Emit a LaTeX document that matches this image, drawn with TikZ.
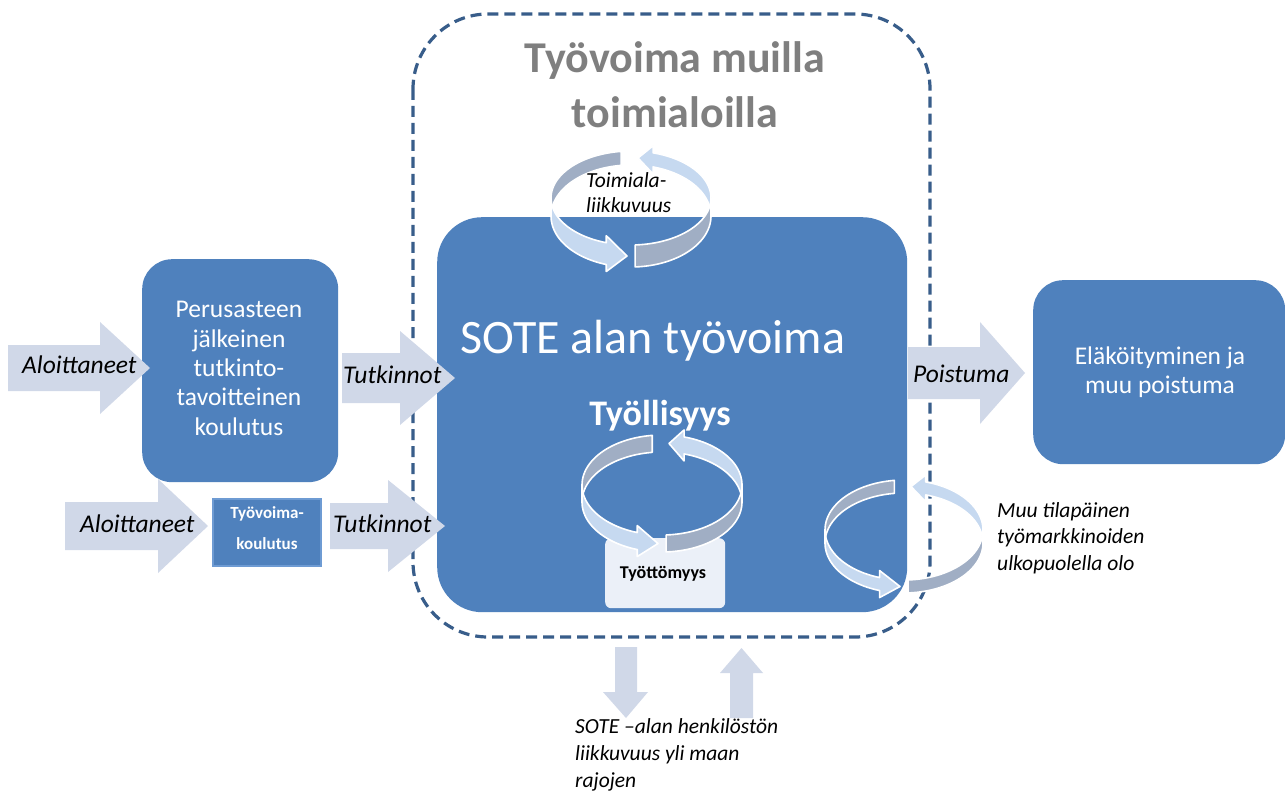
\documentclass[tikz,border=0pt]{standalone}
\usepackage{fontspec}
\setmainfont{Carlito}
\definecolor{boxblue}{HTML}{4F81BD}
\definecolor{boxedge}{HTML}{6E9BD3}
\definecolor{dashblue}{HTML}{385D8A}
\definecolor{arrowfill}{HTML}{D0D8E8}
\definecolor{ringgray}{HTML}{A0AEC4}
\definecolor{ringlight}{HTML}{C6D9F0}
\definecolor{titlegray}{HTML}{7F7F7F}
\definecolor{unempl}{HTML}{EBF0F8}
\newcommand\ArrowR[6]{% x0 x1 x2 ymid bodyhalf headhalf
  \fill[blockarrow] (#1,#4-#5) -- (#2,#4-#5) -- (#2,#4-#6) -- (#3,#4) -- (#2,#4+#6) -- (#2,#4+#5) -- (#1,#4+#5) -- cycle;}
\newcommand\RingArrows[6]{% cx cy rx ry h d
  \pgfmathsetmacro\rcx{#1}%
  \pgfmathsetmacro\rcy{#2}%
  \pgfmathsetmacro\rrx{#3}%
  \pgfmathsetmacro\rry{#4}%
  \pgfmathsetmacro\rcyb{#2+#5}%
  \pgfmathsetmacro\rryb{#4+#6}%
  \pgfmathsetmacro\tipy{(\rcy-\rry+\rcyb-\rryb)/2}%
  \pgfmathsetmacro\tipyb{(\rcy+\rry+\rcyb+\rryb)/2}%
  \filldraw[ringpiece, fill=ringgray]
    plot[domain=97:180, samples=30] ({\rcx+\rrx*cos(\x)},{\rcy-\rry*sin(\x)})
    -- plot[domain=180:97, samples=30] ({\rcx+\rrx*cos(\x)},{\rcyb-\rryb*sin(\x)}) -- cycle;
  \filldraw[ringpiece, fill=ringlight]
    plot[domain=0:74, samples=30] ({\rcx+\rrx*cos(\x)},{\rcy-\rry*sin(\x)})
    -- ({\rcx+\rrx*cos(74)},{\rcy-\rry*sin(74)-7})
    -- ({\rcx+7},{\tipy})
    -- ({\rcx+\rrx*cos(74)},{\rcyb-\rryb*sin(74)+7})
    -- plot[domain=74:0, samples=30] ({\rcx+\rrx*cos(\x)},{\rcyb-\rryb*sin(\x)}) -- cycle;
  \filldraw[ringpiece, fill=ringlight]
    plot[domain=180:252, samples=30] ({\rcx+\rrx*cos(\x)},{\rcy-\rry*sin(\x)})
    -- ({\rcx+\rrx*cos(252)},{\rcy-\rry*sin(252)-7})
    -- ({\rcx-4},{\tipyb})
    -- ({\rcx+\rrx*cos(252)},{\rcyb-\rryb*sin(252)+7})
    -- plot[domain=252:180, samples=30] ({\rcx+\rrx*cos(\x)},{\rcyb-\rryb*sin(\x)}) -- cycle;
  \filldraw[ringpiece, fill=ringgray]
    plot[domain=273:360, samples=30] ({\rcx+\rrx*cos(\x)},{\rcy-\rry*sin(\x)})
    -- plot[domain=360:273, samples=30] ({\rcx+\rrx*cos(\x)},{\rcyb-\rryb*sin(\x)}) -- cycle;
}
\begin{document}
\begin{tikzpicture}[x=1pt,y=-1pt,
  bluebox/.style={rectangle, fill=boxblue, draw=none, inner sep=0pt, anchor=north west},
  blockarrow/.style={fill=arrowfill, draw=none},
  ringpiece/.style={draw=white, line width=1.6pt, line join=round},
  flowlab/.style={inner sep=0pt, anchor=base west, font=\fontsize{25.5}{29}\selectfont\itshape},
  whitetxt/.style={inner sep=0pt, anchor=base, align=center, text=white},
  notetxt/.style={inner sep=0pt, anchor=base west, align=left, font=\fontsize{21.5}{26.5}\selectfont\itshape}
]
\useasboundingbox (0,0) rectangle (1285,794);
\clip (0,0) rectangle (1285,794);
\fill[white] (0,0) rectangle (1285,794);

% dashed frame
\draw[dashblue, line width=3.2pt, dash pattern=on 11pt off 6pt, rounded corners=75pt] (413,14) rectangle (930,637);

% boxes
\node[bluebox, rounded corners=30pt, minimum width=196pt, minimum height=223pt] (peru) at (142,259) {};
\node[bluebox, rounded corners=45pt, minimum width=470pt, minimum height=395pt] (sote) at (437,217) {};
\node[bluebox, rounded corners=30pt, minimum width=252pt, minimum height=184pt] (elak) at (1033,280) {};
\node[bluebox, draw=boxedge, line width=1.5pt, minimum width=108pt, minimum height=67pt] (tvk) at (212,498) {};

% block arrows
\ArrowR{8}{100}{150}{368}{23}{46}
\ArrowR{342}{400}{455}{378}{25}{47}
\ArrowR{65}{158}{208}{526}{24}{47}
\ArrowR{330}{388}{445}{526}{23}{46}
\ArrowR{908}{980}{1025}{373}{26}{51}
\fill[blockarrow] (615,647) -- (637,647) -- (637,692) -- (648,692) -- (626,718) -- (603,692) -- (615,692) -- cycle;
\fill[blockarrow] (730,718) -- (753,718) -- (753,673) -- (763,673) -- (741.5,648) -- (720,673) -- (730,673) -- cycle;

% texts (multi-line nodes: base anchor = baseline of last line)
\node[inner sep=0pt, anchor=base, align=center, text=titlegray, font=\fontsize{44}{55}\selectfont\bfseries] (title) at (675,128) {Työvoima muilla\\toimialoilla};
\node[whitetxt, font=\fontsize{48}{50}\selectfont] (sotelab) at (653,353) {SOTE alan työvoima};
\node[whitetxt, font=\fontsize{36}{40}\selectfont\bfseries] (tyoll) at (660,425) {Työllisyys};
\node[whitetxt, font=\fontsize{25.5}{29.3}\selectfont] (perulab) at (239,435) {Perusasteen\\jälkeinen\\tutkinto-\\tavoitteinen\\koulutus};
\node[whitetxt, font=\fontsize{25.5}{28.5}\selectfont] (elaklab) at (1160,393) {Eläköityminen ja\\muu poistuma};
\node[whitetxt, font=\fontsize{17}{31}\selectfont\bfseries] (tvklab) at (267,549) {Työvoima-\\koulutus};

\node[flowlab] (alo1) at (22,373) {Aloittaneet};
\node[flowlab] (tut1) at (343,383) {Tutkinnot};
\node[flowlab] (alo2) at (80,532) {Aloittaneet};
\node[flowlab] (tut2) at (333,532) {Tutkinnot};
\node[flowlab] (poist) at (913,382) {Poistuma};

% unemployment box
\node[rectangle, rounded corners=6pt, fill=unempl, inner sep=0pt, anchor=north west, minimum width=120pt, minimum height=70pt] (tyot) at (605,538) {};

% ring arrows
\RingArrows{631}{198}{80}{47}{18}{4}
\RingArrows{662}{485}{80}{50}{17}{0}
\RingArrows{904}{530}{79}{50}{13}{0}

\node[inner sep=0pt, anchor=base, font=\fontsize{18}{20}\selectfont\bfseries] (tyotlab) at (663,578) {Työttömyys};
\node[inner sep=0pt, anchor=base west, align=left, font=\fontsize{21.5}{25}\selectfont\itshape] (toimlab) at (586,213) {Toimiala-\\liikkuvuus};
\node[notetxt] (muulab) at (997,570) {Muu tilapäinen\\työmarkkinoiden\\ulkopuolella olo};
\node[notetxt, font=\fontsize{21.5}{27}\selectfont\itshape] (maalab) at (575,787) {SOTE –alan henkilöstön\\liikkuvuus yli maan\\rajojen};
\end{tikzpicture}
\end{document}
